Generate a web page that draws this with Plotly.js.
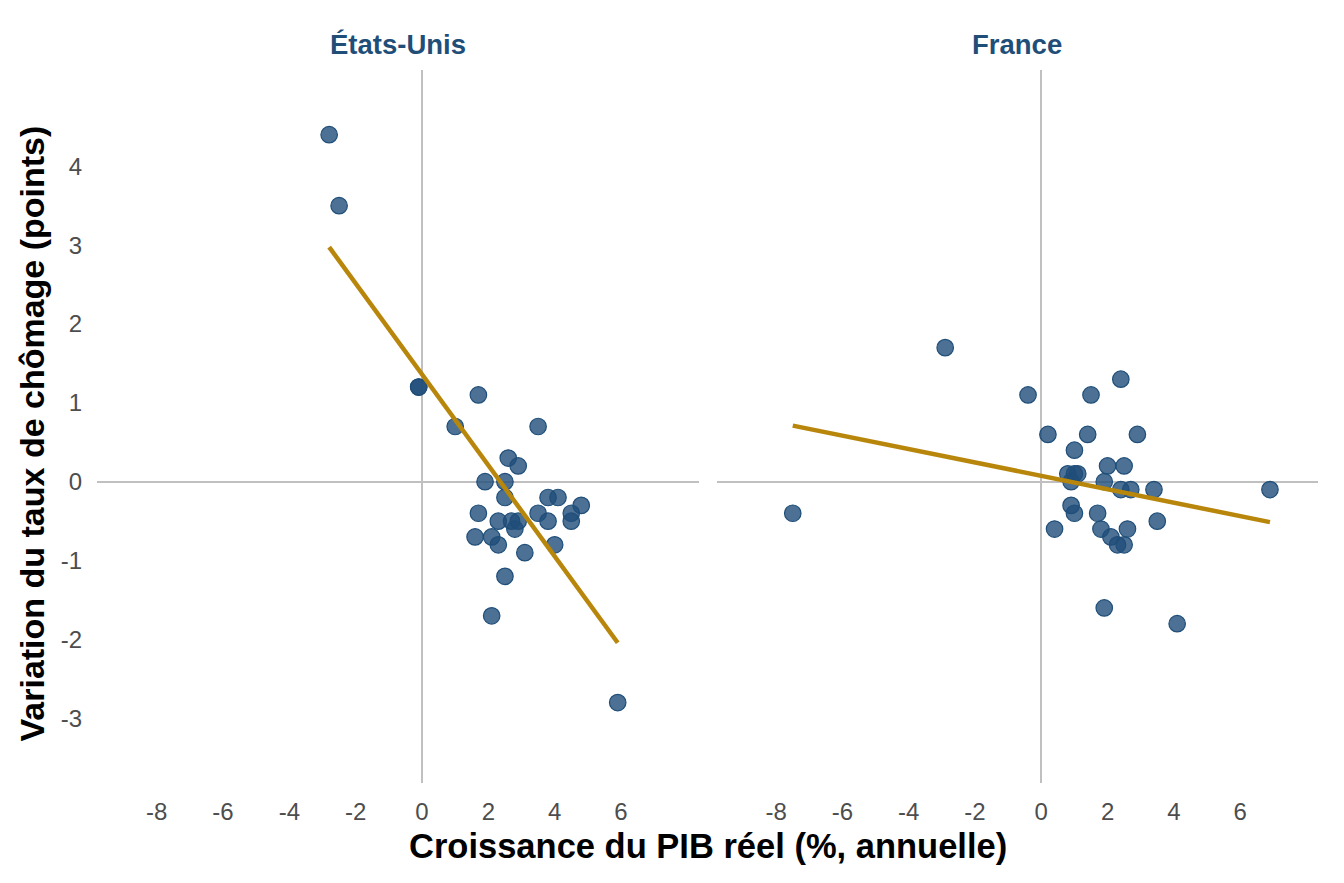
<!DOCTYPE html>
<html>
<head>
<meta charset="utf-8">
<script src="https://cdn.plot.ly/plotly-3.0.1.min.js"></script>
<style>html,body{margin:0;padding:0;background:#fff;}#chart{width:1344px;height:883px;}</style>
</head>
<body>
<div id="chart"></div>
<script>
const panels = ["États-Unis", "France"];
const usGrowth = [-2.8,-2.5,-0.1,-0.1,1.7,1.0,3.5,2.6,2.9,1.9,2.5,2.5,3.8,4.1,4.8,4.5,4.5,3.5,3.8,1.7,2.3,2.7,2.9,2.8,1.6,2.1,2.3,4.0,3.1,2.5,2.1,5.9];
const usUnemp  = [4.4,3.5,1.2,1.2,1.1,0.7,0.7,0.3,0.2,0.0,0.0,-0.2,-0.2,-0.2,-0.3,-0.4,-0.5,-0.4,-0.5,-0.4,-0.5,-0.5,-0.5,-0.6,-0.7,-0.7,-0.8,-0.8,-0.9,-1.2,-1.7,-2.8];
const frGrowth = [-0.4,1.5,2.4,0.2,1.4,2.9,1.0,0.8,1.0,1.1,0.9,2.0,2.5,1.9,2.4,2.7,3.4,0.9,1.0,1.7,3.5,0.4,1.8,2.6,2.1,2.3,2.5,-7.5,-2.9,1.9,4.1,6.9];
const frUnemp  = [1.1,1.1,1.3,0.6,0.6,0.6,0.4,0.1,0.1,0.1,0.0,0.2,0.2,0.0,-0.1,-0.1,-0.1,-0.3,-0.4,-0.4,-0.5,-0.6,-0.6,-0.6,-0.7,-0.8,-0.8,-0.4,1.7,-1.6,-1.8,-0.1];
const xTicks = [-8,-6,-4,-2,0,2,4,6];
const yTicks = [-3,-2,-1,0,1,2,3,4];

function fit(xs, ys) {
  const n = xs.length;
  const mx = xs.reduce((a,b)=>a+b,0)/n, my = ys.reduce((a,b)=>a+b,0)/n;
  let sxy = 0, sxx = 0;
  for (let i=0;i<n;i++){ sxy += (xs[i]-mx)*(ys[i]-my); sxx += (xs[i]-mx)**2; }
  const b = sxy/sxx, a = my - b*mx;
  const x0 = Math.min(...xs), x1 = Math.max(...xs);
  return {x:[x0,x1], y:[a+b*x0, a+b*x1]};
}

const ptColor = 'rgba(31,78,121,0.8)';
const lineColor = '#b8860b';
const fUS = fit(usGrowth, usUnemp), fFR = fit(frGrowth, frUnemp);
const font = 'Liberation Sans, Arial, sans-serif';

const mk = {size:16.5, color:ptColor, line:{color:'#1f4e79', width:1.2}};
const traces = [
  {x:usGrowth, y:usUnemp, mode:'markers', type:'scatter', marker:mk, xaxis:'x', yaxis:'y', hoverinfo:'x+y'},
  {x:fUS.x, y:fUS.y, mode:'lines', type:'scatter', line:{color:lineColor, width:4.5}, xaxis:'x', yaxis:'y'},
  {x:frGrowth, y:frUnemp, mode:'markers', type:'scatter', marker:mk, xaxis:'x2', yaxis:'y2', hoverinfo:'x+y'},
  {x:fFR.x, y:fFR.y, mode:'lines', type:'scatter', line:{color:lineColor, width:4.5}, xaxis:'x2', yaxis:'y2'}
];

const xCommon = {
  range:[-9.8, 8.35], tickvals:xTicks, ticktext:xTicks.map(String),
  showgrid:false, zeroline:true, zerolinecolor:'#c0c0c0', zerolinewidth:2,
  showline:false, ticks:'', ticklabelstandoff:12, tickfont:{family:font, size:24, color:'#4d4d4d'}
};
const yCommon = {
  range:[-3.82, 5.22], tickvals:yTicks, ticktext:yTicks.map(String),
  showgrid:false, zeroline:true, zerolinecolor:'#c0c0c0', zerolinewidth:2,
  showline:false, ticks:'', ticklabelstandoff:14, tickfont:{family:font, size:24, color:'#4d4d4d'}
};

const layout = {
  width:1344, height:883,
  paper_bgcolor:'#fff', plot_bgcolor:'#fff',
  showlegend:false,
  margin:{l:97, r:26, t:70, b:100},
  font:{family:font},
  xaxis: Object.assign({}, xCommon, {domain:[0, 0.493], anchor:'y'}),
  xaxis2: Object.assign({}, xCommon, {domain:[0.5074, 1], anchor:'y2'}),
  yaxis: Object.assign({}, yCommon, {domain:[0,1], anchor:'x'}),
  yaxis2: Object.assign({}, yCommon, {domain:[0,1], anchor:'x2', showticklabels:false}),
  annotations:[
    {text:'<b>'+panels[0]+'</b>', xref:'x domain', yref:'paper', x:0.5, y:1, yshift:26, xanchor:'center', yanchor:'middle', showarrow:false, font:{family:font, size:27.5, color:'#1f4e79'}},
    {text:'<b>'+panels[1]+'</b>', xref:'x2 domain', yref:'paper', x:0.5, y:1, yshift:26, xanchor:'center', yanchor:'middle', showarrow:false, font:{family:font, size:27.5, color:'#1f4e79'}},
    {text:'<b>Croissance du PIB réel (%, annuelle)</b>', xref:'paper', yref:'paper', x:0.5, y:0, yshift:-63, xanchor:'center', yanchor:'middle', showarrow:false, font:{family:font, size:34.5, color:'#000'}},
    {text:'<b>Variation du taux de chômage (points)</b>', xref:'paper', yref:'paper', x:0, y:0.5, xshift:-66, yshift:-7, textangle:-90, xanchor:'center', yanchor:'middle', showarrow:false, font:{family:font, size:34, color:'#000'}}
  ]
};

Plotly.newPlot('chart', traces, layout, {displayModeBar:false, staticPlot:true});
</script>
</body>
</html>
